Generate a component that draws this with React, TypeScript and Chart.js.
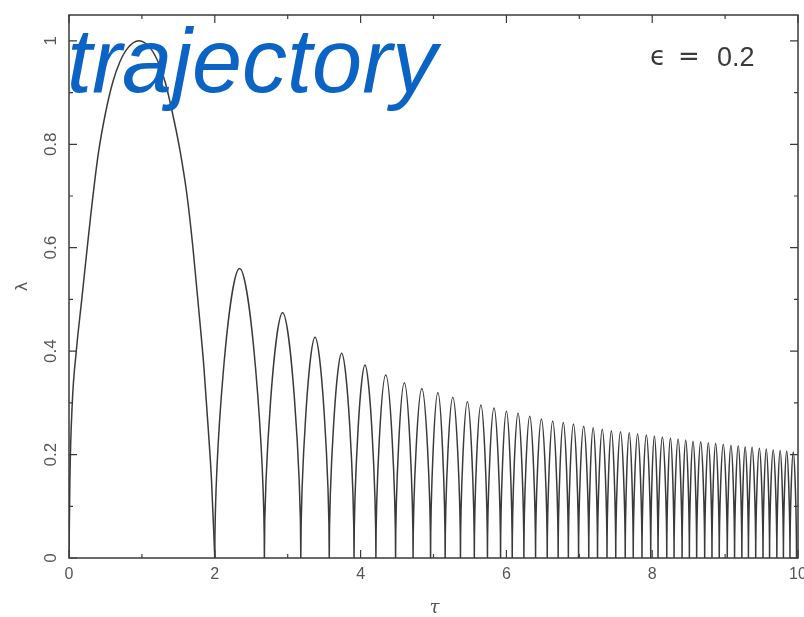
import { useEffect, useRef } from 'react';
import { Chart, registerables } from 'chart.js';

Chart.register(...registerables);

// ---- data ----
// first (large) arc, sampled along the curve
const arc1Tau = [0, 0.012, 0.045, 0.1, 0.175, 0.25, 0.3, 0.4, 0.5, 0.6, 0.7, 0.8, 0.96, 1.12, 1.22, 1.32, 1.42, 1.52, 1.62, 1.7, 1.78, 1.85, 1.91, 1.955, 2.0];
const arc1Lambda = [0, 0.15, 0.3, 0.4, 0.5, 0.6, 0.665, 0.78, 0.86, 0.92, 0.96, 0.985, 1.0, 0.985, 0.96, 0.92, 0.86, 0.79, 0.7, 0.6, 0.48, 0.37, 0.25, 0.15, 0];
// touch-down times (λ = 0) after the first arc
const bounceTimes = [2.0, 2.68, 3.18, 3.57, 3.91, 4.21, 4.48, 4.72, 4.96, 5.16, 5.37, 5.56, 5.74, 5.92, 6.08, 6.24, 6.4, 6.56, 6.71, 6.85, 6.99, 7.13, 7.25, 7.38, 7.5, 7.63, 7.74, 7.86, 7.98, 8.08, 8.2, 8.3, 8.41, 8.51, 8.61, 8.72, 8.82, 8.92, 9.03, 9.13, 9.23, 9.32, 9.42, 9.52, 9.61, 9.71, 9.8, 9.89, 9.98];
// peak heights of the arcs between consecutive touch-downs
const peakLambda = [0.56, 0.474, 0.427, 0.396, 0.373, 0.354, 0.339, 0.328, 0.32, 0.311, 0.302, 0.296, 0.29, 0.284, 0.28, 0.274, 0.269, 0.265, 0.262, 0.259, 0.255, 0.252, 0.249, 0.246, 0.244, 0.242, 0.24, 0.238, 0.236, 0.234, 0.232, 0.23, 0.228, 0.226, 0.225, 0.223, 0.222, 0.22, 0.218, 0.217, 0.215, 0.214, 0.212, 0.211, 0.209, 0.208, 0.207, 0.205];

const xTickValues = [0, 2, 4, 6, 8, 10];
const xTickLabels = ['0', '2', '4', '6', '8', '10'];
const xMinorValues = [1, 3, 5, 7, 9];
const yTickValues = [0, 0.2, 0.4, 0.6, 0.8, 1];
const yTickLabels = ['0', '0.2', '0.4', '0.6', '0.8', '1'];
const yMinorValues = [0.1, 0.3, 0.5, 0.7, 0.9];

const titleText = 'trajectory';
const epsSymbol = 'ϵ';
const epsEquals = '=';
const epsValue = '0.2';
const xAxisTitle = 'τ';
const yAxisTitle = 'λ';

function firstArcPoints() {
  return arc1Tau.map((t, i) => ({ x: t, y: arc1Lambda[i] }));
}

function bouncePoints() {
  const pts: { x: number; y: number }[] = [];
  for (let i = 0; i < peakLambda.length; i++) {
    const a = bounceTimes[i];
    const b = bounceTimes[i + 1];
    pts.push({ x: a, y: 0 });
    pts.push({ x: (a + b) / 2, y: peakLambda[i] });
    pts.push({ x: b, y: 0 });
  }
  return pts;
}

// make the curve leave / hit the ground vertically (cusps at touch-down)
const cuspPlugin = {
  id: 'cusps',
  beforeDatasetDraw(chart: any, args: any) {
    if (args.index !== 1) return;
    const meta = args.meta;
    const line = meta.dataset;
    if (!line) return;
    line.updateControlPoints(chart.chartArea, 'x');
    const raw = chart.data.datasets[1].data as { x: number; y: number }[];
    meta.data.forEach((p: any, i: number) => {
      if (raw[i] && raw[i].y === 0) {
        p.cp1x = p.x;
        p.cp2x = p.x;
      }
    });
  },
};

const decorPlugin = {
  id: 'decor',
  afterDraw(chart: any) {
    const ctx = chart.ctx as CanvasRenderingContext2D;
    const xs = chart.scales.x;
    const ys = chart.scales.y;
    const { left, right, top, bottom } = chart.chartArea;
    ctx.save();
    // frame
    ctx.strokeStyle = '#3a3a3a';
    ctx.lineWidth = 1.5;
    ctx.strokeRect(left, top, right - left, bottom - top);
    // ticks
    ctx.lineWidth = 1.2;
    ctx.beginPath();
    const tickX = (v: number, len: number) => {
      const p = xs.getPixelForValue(v);
      ctx.moveTo(p, bottom); ctx.lineTo(p, bottom - len);
      ctx.moveTo(p, top); ctx.lineTo(p, top + len);
    };
    const tickY = (v: number, len: number) => {
      const p = ys.getPixelForValue(v);
      ctx.moveTo(left, p); ctx.lineTo(left + len, p);
      ctx.moveTo(right, p); ctx.lineTo(right - len, p);
    };
    xTickValues.forEach((v) => tickX(v, 8));
    xMinorValues.forEach((v) => tickX(v, 4));
    yTickValues.forEach((v) => tickY(v, 8));
    yMinorValues.forEach((v) => tickY(v, 4));
    ctx.stroke();

    // tick labels
    ctx.fillStyle = '#555';
    ctx.font = '16px "Liberation Sans", Arial, sans-serif';
    ctx.textAlign = 'center';
    ctx.textBaseline = 'middle';
    xTickValues.forEach((v, i) => {
      ctx.fillText(xTickLabels[i], xs.getPixelForValue(v), bottom + 17);
    });
    ctx.font = '17px "Liberation Sans", Arial, sans-serif';
    yTickValues.forEach((v, i) => {
      ctx.save();
      ctx.translate(left - 18, ys.getPixelForValue(v));
      ctx.rotate(-Math.PI / 2);
      ctx.fillText(yTickLabels[i], 0, 0);
      ctx.restore();
    });

    // axis titles
    ctx.font = 'italic 18px "DejaVu Serif", serif';
    ctx.fillText(xAxisTitle, (left + right) / 2 + 1, bottom + 50);
    ctx.save();
    ctx.translate(left - 46, (top + bottom) / 2 + 0);
    ctx.rotate(-Math.PI / 2);
    ctx.font = '16px "DejaVu Sans", sans-serif';
    ctx.fillText(yAxisTitle, 0, 0);
    ctx.restore();

    // epsilon annotation
    ctx.fillStyle = '#3a3a3a';
    ctx.textAlign = 'left';
    ctx.font = '26px "DejaVu Sans", sans-serif';
    ctx.fillText(epsSymbol, 650, 58);
    ctx.textAlign = 'center';
    ctx.fillText(epsEquals, 689, 58);
    ctx.textAlign = 'left';
    ctx.font = '27px "Liberation Sans", Arial, sans-serif';
    ctx.fillText(epsValue, 717, 59);

    // overlay title
    ctx.fillStyle = '#0b63c4';
    ctx.font = 'italic 90px "Liberation Sans", Arial, sans-serif';
    ctx.textAlign = 'left';
    ctx.textBaseline = 'alphabetic';
    ctx.fillText(titleText, 67, 92);
    ctx.restore();
  },
};

export default function App() {
  const ref = useRef<HTMLCanvasElement | null>(null);
  useEffect(() => {
    document.body.style.margin = '0';
    const canvas = ref.current;
    if (!canvas) return;
    const chart = new Chart(canvas, {
      type: 'line',
      data: {
        datasets: [
          {
            data: firstArcPoints(),
            borderColor: '#3a3a3a',
            borderWidth: 1.5,
            pointRadius: 0,
            cubicInterpolationMode: 'monotone',
            fill: false,
          },
          {
            data: bouncePoints(),
            borderColor: '#3a3a3a',
            borderWidth: 1.5,
            pointRadius: 0,
            tension: 0.4,
            fill: false,
          },
        ],
      },
      options: {
        animation: false,
        responsive: false,
        layout: { padding: { left: 69, right: 6, top: 15, bottom: 59 } },
        plugins: { legend: { display: false }, tooltip: { enabled: false }, title: { display: false } },
        scales: {
          x: { type: 'linear', min: 0, max: 10, display: false },
          y: { type: 'linear', min: 0, max: 1.05, display: false },
        },
      },
      plugins: [cuspPlugin, decorPlugin],
    });
    return () => chart.destroy();
  }, []);
  return (
    <div style={{ width: 804, height: 617, background: '#fff' }}>
      <canvas ref={ref} width={804} height={617} />
    </div>
  );
}
